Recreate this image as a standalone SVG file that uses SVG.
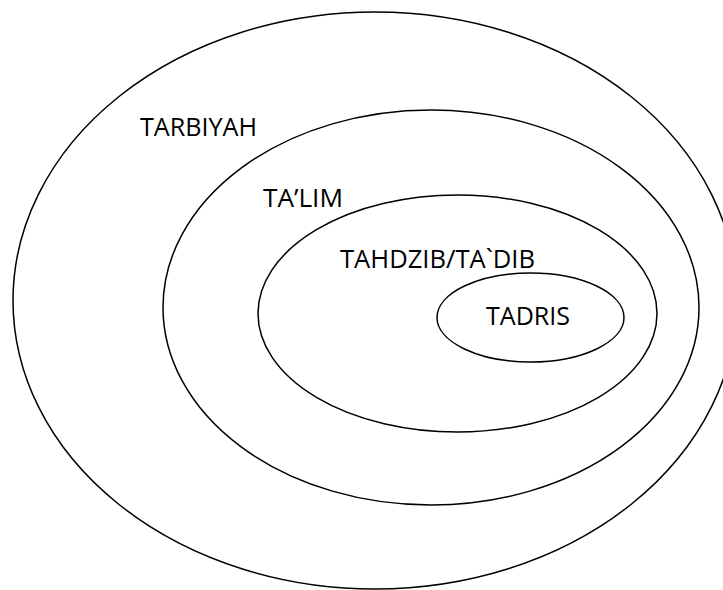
<svg xmlns="http://www.w3.org/2000/svg" width="723" height="590" viewBox="0 0 723 590">
<style>
.e{fill:none;stroke:#000;stroke-width:1.5}
.t{font-family:"Open Sans","Liberation Sans",sans-serif;font-size:25px;fill:#000}
</style>
<rect width="723" height="590" fill="#fff"/>
<g id="tarbiyah">
<ellipse class="e" cx="375" cy="300.5" rx="362" ry="288.5"/>
<text class="t" x="140" y="136" textLength="117" lengthAdjust="spacingAndGlyphs">TARBIYAH</text>
</g>
<g id="talim">
<ellipse class="e" cx="431" cy="307.5" rx="268" ry="197.5"/>
<text class="t" x="263" y="207" textLength="80" lengthAdjust="spacingAndGlyphs">TA’LIM</text>
</g>
<g id="tahdzib">
<ellipse class="e" cx="457.5" cy="313.5" rx="199.5" ry="118.5"/>
<text class="t" x="340" y="268" textLength="195" lengthAdjust="spacingAndGlyphs">TAHDZIB/TA`DIB</text>
</g>
<g id="tadris">
<ellipse class="e" cx="530.5" cy="317.5" rx="93.5" ry="44.5"/>
<text class="t" x="486" y="325" textLength="84" lengthAdjust="spacingAndGlyphs">TADRIS</text>
</g>
<g id="connectors"/>
</svg>
